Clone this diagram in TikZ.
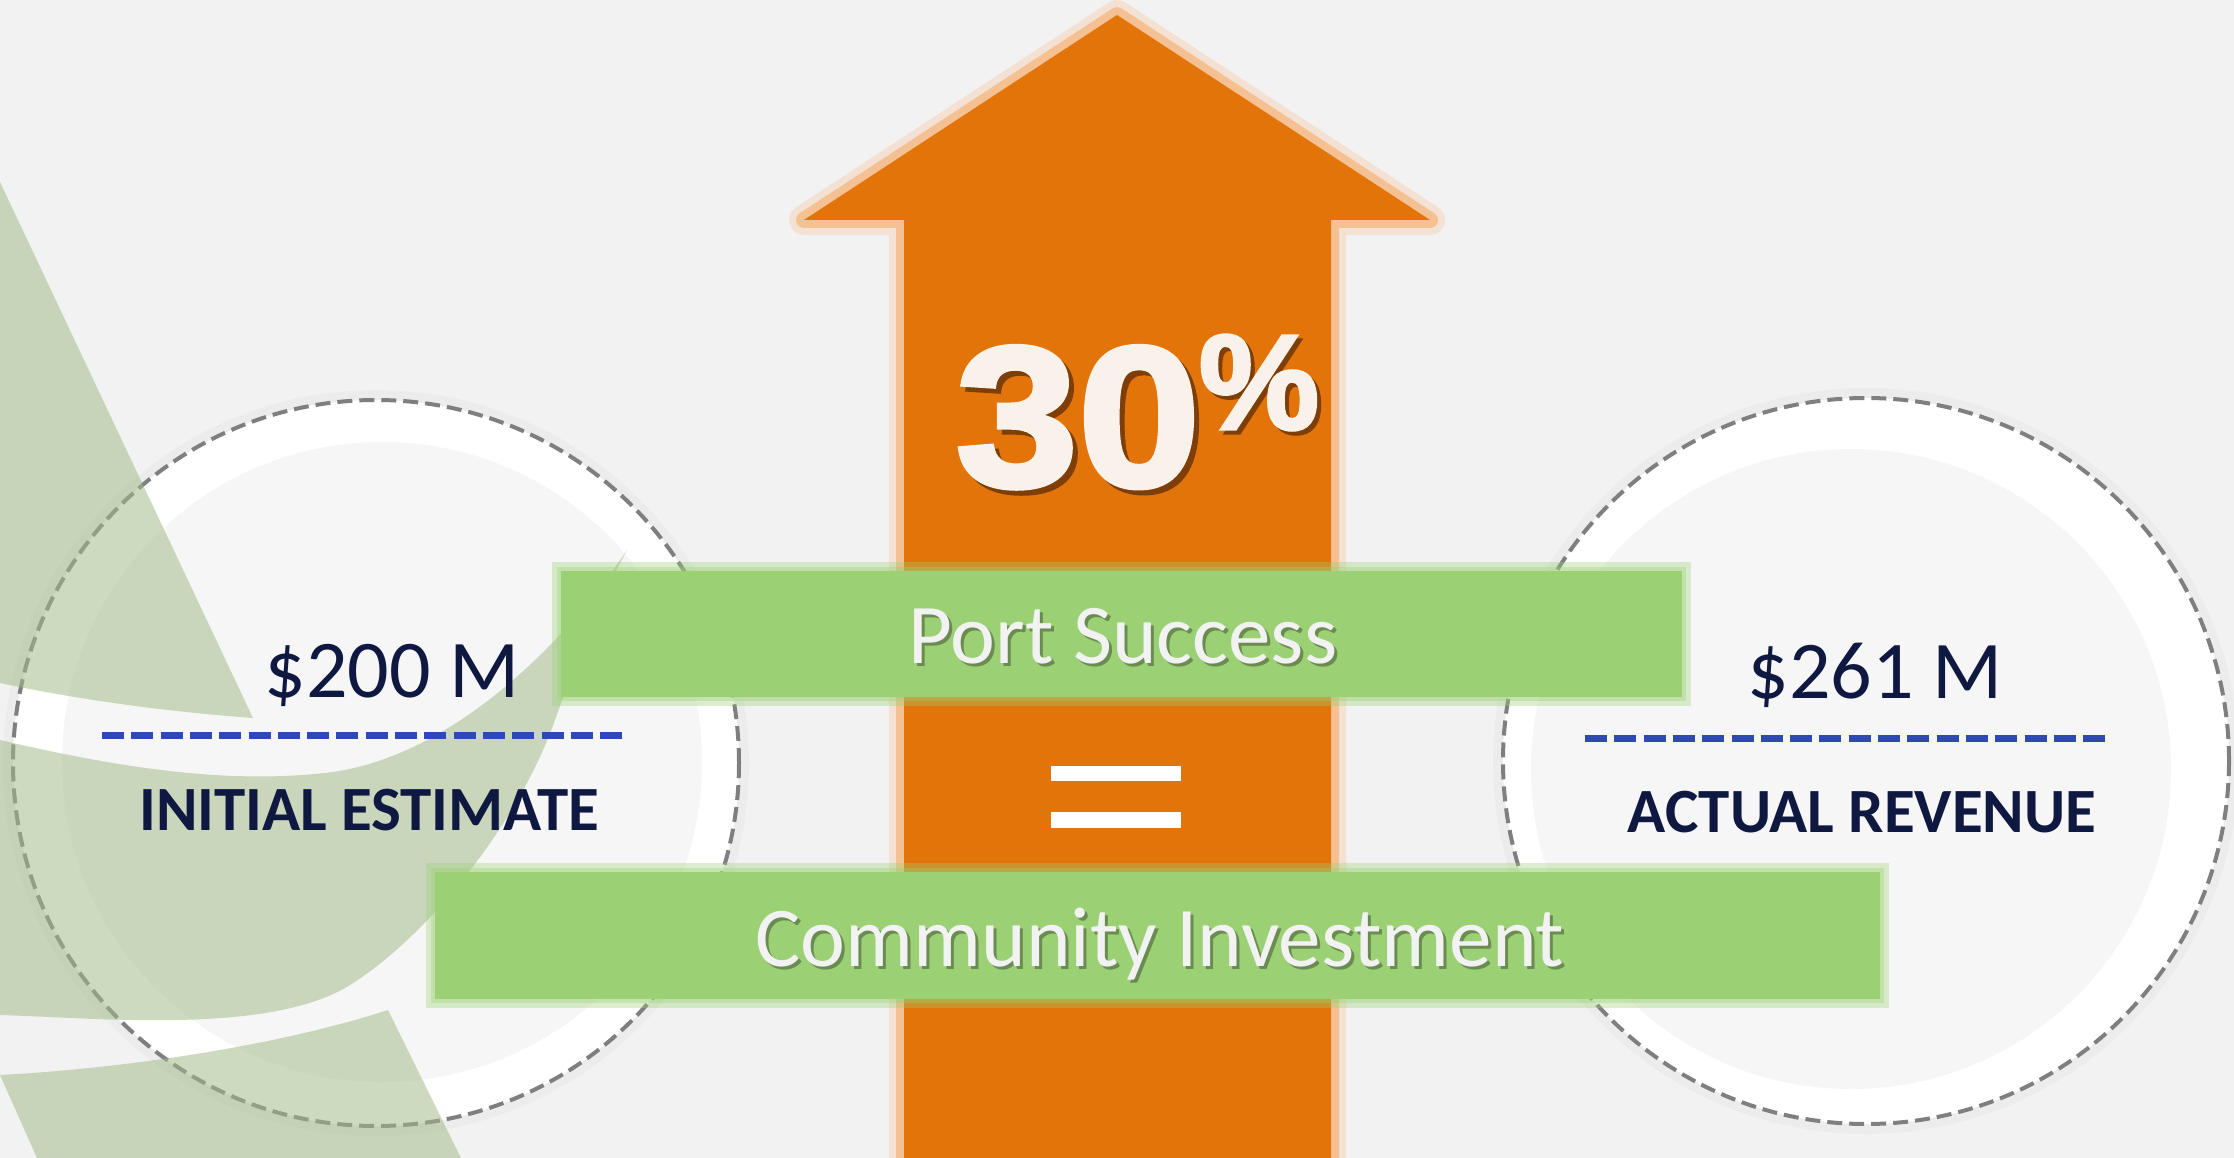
\documentclass[tikz,border=0pt]{standalone}
\usepackage{fontspec}
\setmainfont{Carlito}
\newfontfamily\heavy{Liberation Sans}[BoldFeatures={FakeBold=2.5}]
\definecolor{bg}{HTML}{F2F2F2}
\definecolor{innerdisk}{HTML}{F6F6F6}
\definecolor{dashgray}{HTML}{7F7F7F}
\definecolor{logogreen}{HTML}{A3BB89}
\definecolor{arroworange}{HTML}{E27409}
\definecolor{arrowglow}{HTML}{F6BE8C}
\definecolor{boxgreen}{HTML}{9BD174}
\definecolor{navy}{HTML}{0F1840}
\definecolor{dashblue}{HTML}{2E48B6}
\definecolor{cream}{HTML}{F8F2EA}
\definecolor{shadowbrown}{HTML}{7E3E05}
\definecolor{boxshadowcol}{HTML}{6A8C50}
\tikzset{
  ring/.style={fill=white},
  disk/.style={fill=innerdisk},
  dashring/.style={draw=dashgray, line width=4pt, dash pattern=on 15pt off 7pt},
  halo/.style={draw=black, draw opacity=0.025, line width=10pt},
  logo/.style={fill=logogreen, fill opacity=0.54},
  bluedash/.style={draw=dashblue, line width=7pt, dash pattern=on 22pt off 7.3pt},
  valuetext/.style={text=navy, inner sep=0pt, anchor=base, font=\fontsize{82}{90}\selectfont},
  labeltext/.style={text=navy, inner sep=0pt, anchor=base, font=\fontsize{63}{70}\selectfont\bfseries},
  boxtext/.style={text=bg, inner sep=0pt, anchor=base, font=\fontsize{85}{95}\selectfont},
  bigtext/.style={text=cream, inner sep=0pt, anchor=base},
  greenbox/.style={fill=boxgreen, inner sep=0pt, draw=none},
  boxglow/.style={draw=boxgreen, line width=#1, draw opacity=0.35},
  bar/.style={fill=white},
}
\newcommand{\shadowed}[3]{\rlap{\kern#3\raisebox{-#3}{\color{#1}#2}}#2}
\begin{document}
\begin{tikzpicture}[x=1pt,y=-1pt]
\useasboundingbox (0,0) rectangle (2234,1158);
\fill[bg] (0,0) rectangle (2234,1158);

% ---------- left circle ----------
\coordinate (lc) at (376,763);
\coordinate (lci) at (382,762);
\draw[halo] (lc) circle[radius=368pt];
\fill[ring] (lc) circle[radius=363pt];
\fill[disk] (lci) circle[radius=320pt];
\draw[dashring] (lc) circle[radius=363pt];

% ---------- logo shapes (semi transparent) ----------
\fill[logo] (0,182) -- (253,718) .. controls (170,712) and (80,700) .. (0,683) -- cycle;
\fill[logo] (0,740) .. controls (120,768) and (230,785) .. (333,772)
  .. controls (450,755) and (560,650) .. (627,550)
  .. controls (595,610) and (580,650) .. (555,720)
  .. controls (520,820) and (430,935) .. (350,985)
  .. controls (270,1035) and (100,1018) .. (0,1015) -- cycle;
\fill[logo] (0,1075) .. controls (130,1068) and (280,1045) .. (388,1010)
  -- (461,1158) -- (37,1158) -- cycle;

% ---------- right circle ----------
\coordinate (rc) at (1866,761);
\coordinate (rci) at (1851,769);
\draw[halo] (rc) circle[radius=368pt];
\fill[ring] (rc) circle[radius=363pt];
\fill[disk] (rci) circle[radius=320pt];
\draw[dashring] (rc) circle[radius=363pt];

% ---------- orange arrow ----------
\path[draw=arrowglow, draw opacity=0.3, line width=30pt, line join=round]
  (1117,15) -- (1430,220) -- (1331,220) -- (1331,1190) -- (904,1190) -- (904,220) -- (804,220) -- cycle;
\path[draw=arrowglow, draw opacity=0.9, line width=16pt, line join=round]
  (1117,15) -- (1430,220) -- (1331,220) -- (1331,1190) -- (904,1190) -- (904,220) -- (804,220) -- cycle;
\fill[arroworange]
  (1117,15) -- (1430,220) -- (1331,220) -- (1331,1190) -- (904,1190) -- (904,220) -- (804,220) -- cycle;

% ---------- 30% ----------
\node[bigtext] (pct) at (1078,486)
  {\fontsize{200}{210}\selectfont\heavy\bfseries\shadowed{shadowbrown}{\scalebox{1.1}[1]{30}}{5pt}};
\node[bigtext] (perc) at (1259,429)
  {\fontsize{135}{140}\selectfont\heavy\bfseries\shadowed{shadowbrown}{\%}{4pt}};

% ---------- green boxes ----------
\path[boxglow=18pt] (561,571) rectangle (1682,697);
\path[boxglow=8pt] (561,571) rectangle (1682,697);
\node[greenbox, minimum width=1121pt, minimum height=126pt] (ps) at (1121.5,634) {};
\node[boxtext] (pstx) at (1123,663) {\shadowed{boxshadowcol}{Port Success}{3pt}};

\path[boxglow=18pt] (435,872) rectangle (1880,999);
\path[boxglow=8pt] (435,872) rectangle (1880,999);
\node[greenbox, minimum width=1445pt, minimum height=127pt] (ci) at (1157.5,935.5) {};
\node[boxtext] (citx) at (1160,966) {\shadowed{boxshadowcol}{Community Investment}{3pt}};

% ---------- equals ----------
\node[bar, inner sep=0pt, minimum width=130pt, minimum height=15pt] (eq1) at (1116,773.5) {};
\node[bar, inner sep=0pt, minimum width=130pt, minimum height=16pt] (eq2) at (1116,820) {};

% ---------- left texts ----------
\node[valuetext] (lv) at (392,697) {\$200 M};
\coordinate (lda) at (102,735);
\coordinate (ldb) at (623,735);
\draw[bluedash] (lda) -- (ldb);
\node[labeltext] (ll) at (369,830) {INITIAL ESTIMATE};

% ---------- right texts ----------
\node[valuetext] (rv) at (1875,698) {\$261 M};
\coordinate (rda) at (1585,738);
\coordinate (rdb) at (2106,738);
\draw[bluedash] (rda) -- (rdb);
\node[labeltext] (rl) at (1862,832) {ACTUAL REVENUE};
\end{tikzpicture}
\end{document}
